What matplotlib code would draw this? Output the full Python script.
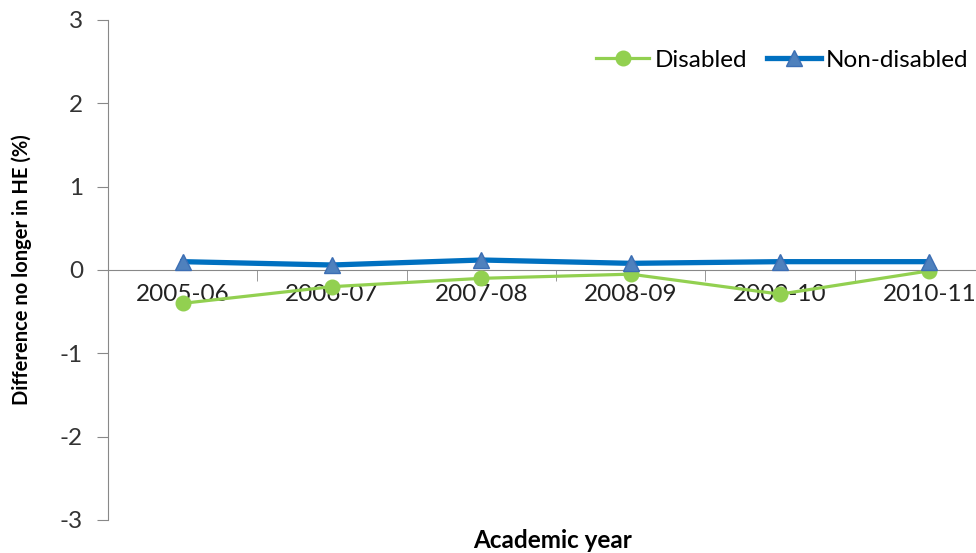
import matplotlib
matplotlib.use("Agg")
import matplotlib.pyplot as plt
import numpy as np

years = ["2005-06", "2006-07", "2007-08", "2008-09", "2009-10", "2010-11"]
disabled = [-0.40, -0.20, -0.10, -0.05, -0.29, -0.01]
non_disabled = [0.10, 0.06, 0.12, 0.08, 0.10, 0.10]
yticks = [-3, -2, -1, 0, 1, 2, 3]

plt.rcParams['font.family'] = ['Lato', 'DejaVu Sans']

W, H = 976, 553
fig = plt.figure(figsize=(W/100, H/100), dpi=100)
left, right = 108, 1004
top, bottom = 20, 520
ax = fig.add_axes([left/W, 1 - bottom/H, (right-left)/W, (bottom-top)/H])

for s in ['top', 'right']:
    ax.spines[s].set_visible(False)
ax.spines['bottom'].set_position(('data', 0))
ax.spines['bottom'].set_color('#888888')
ax.spines['left'].set_color('#888888')

x = np.arange(len(years))
ax.plot(x, disabled, color='#92D050', lw=2.3, marker='o', ms=10.5,
        markerfacecolor='#92D050', markeredgecolor='#92D050', label='Disabled', zorder=3)
ax.plot(x, non_disabled, color='#0070C0', lw=3.8, marker='^', ms=11,
        markerfacecolor='#4F81BD', markeredgecolor='#3C6EB4', label='Non-disabled', zorder=4)

ax.set_xlim(-0.5, len(years) - 0.5)
ax.set_ylim(-3, 3)
ax.set_yticks(yticks)
ax.set_yticklabels([str(v) for v in yticks], fontsize=17.5, color='#333333')

ax.set_xticks(x)
ax.set_xticklabels(years, fontsize=17.5, color='#222222')
ax.set_xticks(np.arange(-0.5, len(years)), minor=True)
ax.tick_params(axis='x', which='major', length=0, pad=10)
ax.tick_params(axis='x', which='minor', length=8, direction='out', color='#888888')
ax.tick_params(axis='y', length=8, direction='out', color='#888888', pad=10)

ax.set_ylabel('Difference no longer in HE (%)', fontsize=14.5, fontweight='bold')
ax.yaxis.set_label_coords((32 - left) / (right - left), 0.5)
fig.text(553/W, 1 - 541/H, 'Academic year', fontsize=17.5, fontweight='bold',
         ha='center', va='center')

leg = ax.legend(loc='upper right', bbox_to_anchor=(978/W, 1 - 40/H), bbox_transform=fig.transFigure,
                ncol=2, frameon=False, fontsize=17.5, handlelength=2.2, handletextpad=0.2,
                columnspacing=0.85, borderaxespad=0)

fig.savefig('out.png', dpi=100)
